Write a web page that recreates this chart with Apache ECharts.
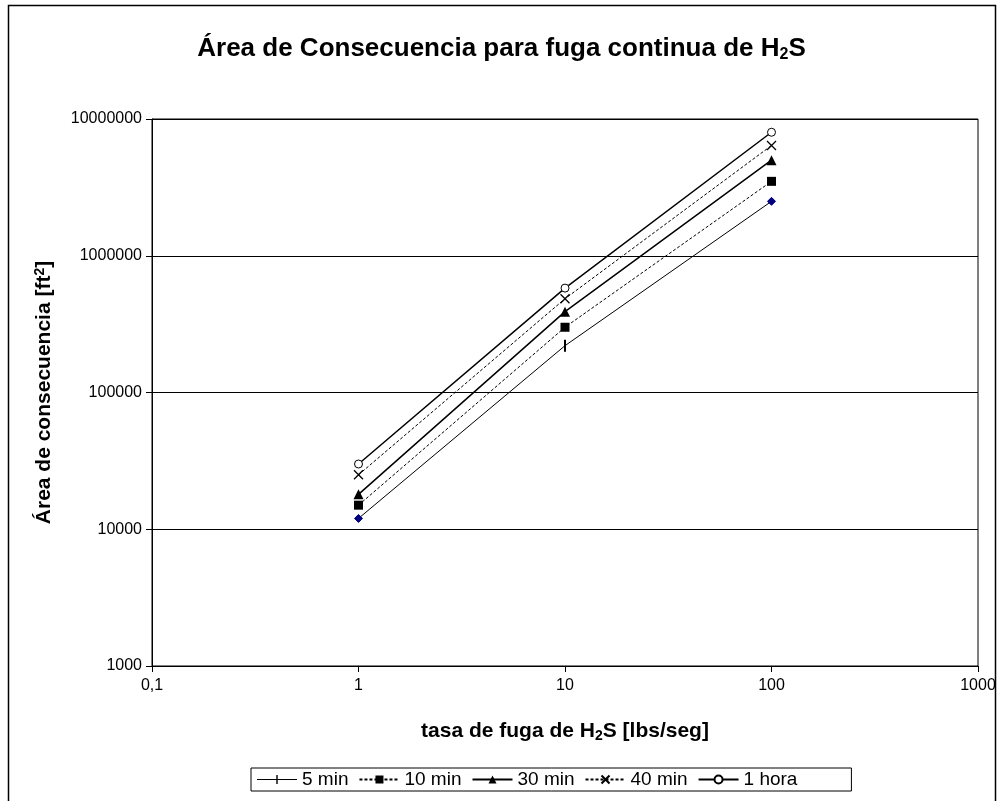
<!DOCTYPE html>
<html>
<head>
<meta charset="utf-8">
<script src="https://cdn.jsdelivr.net/npm/echarts@6/dist/echarts.min.js"></script>
<style>html,body{margin:0;padding:0;background:#fff}#c{width:1003px;height:801px}</style>
</head>
<body>
<div id="c"></div>
<script>
const rates = [1, 10, 100];
const seriesNames = ['5 min', '10 min', '30 min', '40 min', '1 hora'];
const min5 = [12000, 220000, 2500000];
const min10 = [15000, 300000, 3500000];
const min30 = [18000, 390000, 5000000];
const min40 = [25000, 485000, 6400000];
const hora1 = [30000, 580000, 8000000];
const xTicks = ['0,1', '1', '10', '100', '1000'];
const yTicks = ['1000', '10000', '100000', '1000000', '10000000'];

const F = '"Liberation Sans", Arial, sans-serif';
function pairs(vals){ return rates.map((r,i)=>[r, vals[i]]); }

const chart = echarts.init(document.getElementById('c'));
const xSym = 'path://M0,0L10,10M10,0L0,10';
const legendBar = 'path://M0,4.6h40v1h-40z M19.3,0.5h1.4v9h-1.4z';

const s5 = pairs(min5).map((p,i)=> i===1 ? {value:p} :
  {value:p, symbol:'diamond', symbolSize:8, itemStyle:{color:'#000080', borderColor:'#000080'}});

chart.setOption({
  animation:false,
  title:{
    text:'{b|Área de Consecuencia para fuga continua de H}{s|2}{b|S}',
    left:'center', top:29,
    textStyle:{rich:{
      b:{fontFamily:F, fontSize:26, fontWeight:'bold', color:'#000'},
      s:{fontFamily:F, fontSize:16, fontWeight:'bold', color:'#000', padding:[13,0,0,0]}
    }}
  },
  grid:{left:152, top:119, right:25, bottom:135, show:true, borderColor:'#000', borderWidth:1, backgroundColor:'#fff'},
  xAxis:{
    type:'log', logBase:10, min:0.1, max:1000,
    axisLine:{show:true, lineStyle:{color:'#000'}},
    axisTick:{show:true, length:6, lineStyle:{color:'#000'}},
    minorTick:{show:false},
    splitLine:{show:false},
    axisLabel:{fontFamily:F, fontSize:16, color:'#000', margin:12,
      formatter:function(v){ const k=Math.round(Math.log10(v))+1; return xTicks[k] ?? String(v); }},
    name:'{b|tasa de fuga de H}{s|2}{b|S [lbs/seg]}',
    nameLocation:'middle', nameGap:54,
    nameTextStyle:{rich:{
      b:{fontFamily:F, fontSize:21, fontWeight:'bold', color:'#000'},
      s:{fontFamily:F, fontSize:14, fontWeight:'bold', color:'#000', padding:[9,0,0,0]}
    }}
  },
  yAxis:{
    type:'log', logBase:10, min:1000, max:10000000,
    axisLine:{show:true, lineStyle:{color:'#000'}},
    axisTick:{show:true, length:6, lineStyle:{color:'#000'}},
    splitLine:{show:true, lineStyle:{color:'#000', width:1}},
    axisLabel:{fontFamily:F, fontSize:16, color:'#000', margin:10,
      formatter:function(v){ const k=Math.round(Math.log10(v))-3; return yTicks[k] ?? String(v); }},
    name:'{b|Área de consecuencia [ft}{p|2}{b|]}',
    nameLocation:'middle', nameGap:96, nameRotate:90,
    nameTextStyle:{rich:{
      b:{fontFamily:F, fontSize:21, fontWeight:'bold', color:'#000'},
      p:{fontFamily:F, fontSize:14, fontWeight:'bold', color:'#000', padding:[0,0,9,0]}
    }}
  },
  legend:{
    left:251, top:768, itemWidth:40, itemHeight:10, itemGap:10,
    borderColor:'#000', borderWidth:1, padding:[2,54,2,6],
    textStyle:{fontFamily:F, fontSize:19, color:'#000'},
    data:[{name:seriesNames[0], icon:legendBar}, seriesNames[1], seriesNames[2], seriesNames[3], seriesNames[4]]
  },
  series:[
    {name:seriesNames[0], type:'line', data:s5, symbol:'rect', symbolSize:[2,12],
      lineStyle:{color:'#000', width:1}, itemStyle:{color:'#000'}},
    {name:seriesNames[1], type:'line', data:pairs(min10), symbol:'rect', symbolSize:9,
      lineStyle:{color:'#000', width:1, type:[3,2]}, itemStyle:{color:'#000'}},
    {name:seriesNames[2], type:'line', data:pairs(min30), symbol:'triangle', symbolSize:10,
      lineStyle:{color:'#000', width:1.5}, itemStyle:{color:'#000'}},
    {name:seriesNames[3], type:'line', data:pairs(min40), symbol:xSym, symbolSize:9,
      lineStyle:{color:'#000', width:1, type:[3,2]}, itemStyle:{color:'none', borderColor:'#000', borderWidth:1.3}},
    {name:seriesNames[4], type:'line', data:pairs(hora1), symbol:'circle', symbolSize:8,
      lineStyle:{color:'#000', width:1.5}, itemStyle:{color:'#fff', borderColor:'#000', borderWidth:1}}
  ],
  graphic:[{type:'rect', shape:{x:8.5, y:5.5, width:987, height:810}, style:{fill:null, stroke:'#000', lineWidth:1.5}, silent:true, z:-1}]
});
</script>
</body>
</html>
